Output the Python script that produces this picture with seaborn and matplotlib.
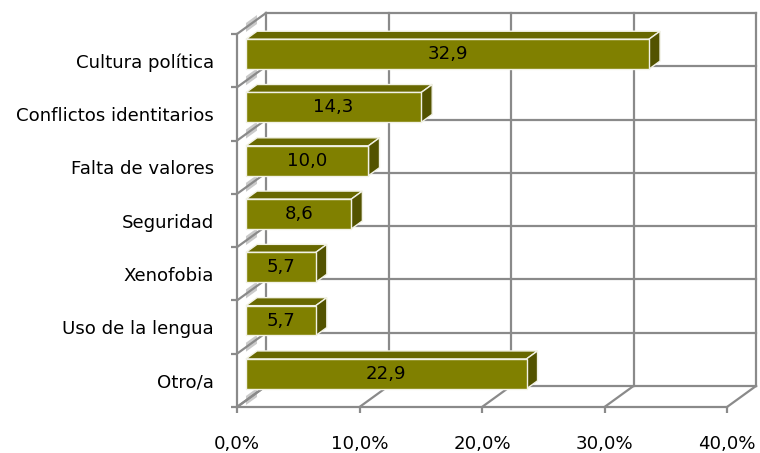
import matplotlib
matplotlib.use("Agg")
import matplotlib.pyplot as plt
import seaborn as sns
import pandas as pd
from matplotlib.patches import Polygon
from matplotlib.ticker import FixedLocator, FixedFormatter

categories = ["Cultura política", "Conflictos identitarios", "Falta de valores",
              "Seguridad", "Xenofobia", "Uso de la lengua", "Otro/a"]
values = [32.9, 14.3, 10.0, 8.6, 5.7, 5.7, 22.9]
value_labels = ["32,9", "14,3", "10,0", "8,6", "5,7", "5,7", "22,9"]
x_ticks = [0, 10, 20, 30, 40]
x_tick_labels = ["0,0%", "10,0%", "20,0%", "30,0%", "40,0%"]

W, H = 760, 453
sns.set_style("white")
plt.rcParams["font.family"] = ["DejaVu Sans"]

fig = plt.figure(figsize=(W / 100, H / 100), dpi=100)
L, R, T, B = 237, 727, 34, 407
ax = fig.add_axes([L / W, (H - B) / H, (R - L) / W, (B - T) / H])

df = pd.DataFrame({"cat": categories, "val": values})
FRONT = "#808000"
TOP = "#686800"
SIDE = "#535300"
EDGE = "#f2f2e6"
GRID = "#8a8a8a"
FS = 13.1

sns.barplot(data=df, x="val", y="cat", orient="h", color=FRONT, width=0.56,
            saturation=1, ax=ax, edgecolor=EDGE, linewidth=1.0, zorder=5)

xmax = 40
n = len(categories)
ax.set_xlim(0, xmax)
ax.set_ylim(n - 0.5, -0.5)

pxx = (R - L) / xmax          # pixels per % unit
pxy = (B - T) / n             # pixels per category
DXp, DYp = 29, 21             # full depth in pixels
DX, DY = DXp / pxx, -DYp / pxy
f0, f1 = 0.31, 0.69

lw = 1.6
kw = dict(color=GRID, lw=lw, clip_on=False, zorder=1, solid_capstyle="projecting")
bounds = [i - 0.5 for i in range(n + 1)]
# back wall
for xv in x_ticks:
    ax.plot([xv + DX, xv + DX], [bounds[0] + DY, bounds[-1] + DY], **kw)
for b in bounds:
    ax.plot([DX, xmax + DX], [b + DY, b + DY], **kw)
# left wall
ax.plot([0, 0], [bounds[0], bounds[-1]], **kw)
for b in bounds:
    ax.plot([0, DX], [b, b + DY], **kw)
    # light shading where the bar depth meets the wall grid line
    hb = 4.5 / pxy
    xa, xb = f0 * DX, f1 * DX
    ya, yb = b + f0 * DY, b + f1 * DY
    ax.add_patch(Polygon([[xa, ya - hb], [xb, yb - hb], [xb, yb + hb], [xa, ya + hb]],
                         closed=True, facecolor="#cacaca", edgecolor="none",
                         zorder=0.8, clip_on=False))
# floor
ax.plot([0, xmax], [bounds[-1], bounds[-1]], **kw)
for xv in x_ticks:
    ax.plot([xv, xv + DX], [bounds[-1], bounds[-1] + DY], **kw)

# 3D bars
ox, oy = f0 * DX, f0 * DY
ddx, ddy = (f1 - f0) * DX, (f1 - f0) * DY
for p, lab in zip(ax.patches, value_labels):
    x0 = p.get_x() + ox
    y0 = p.get_y() + oy
    w = p.get_width()
    h = p.get_height()
    p.set_x(x0)
    p.set_y(y0)
    x1 = x0 + w
    ytop, ybot = y0, y0 + h
    top = Polygon([[x0, ytop], [x0 + ddx, ytop + ddy], [x1 + ddx, ytop + ddy], [x1, ytop]],
                  closed=True, facecolor=TOP, edgecolor=EDGE, lw=1.0, zorder=4, clip_on=False)
    side = Polygon([[x1, ytop], [x1 + ddx, ytop + ddy], [x1 + ddx, ybot + ddy], [x1, ybot]],
                   closed=True, facecolor=SIDE, edgecolor=EDGE, lw=1.0, zorder=4, clip_on=False)
    ax.add_patch(top)
    ax.add_patch(side)
    p.set_clip_on(False)
    ax.text(x0 + w / 2, y0 + h / 2, lab, ha="center", va="center",
            fontsize=FS, color="black", zorder=6)

for s in ax.spines.values():
    s.set_visible(False)

ax.set_xlabel("")
ax.set_ylabel("")
ax.xaxis.set_major_locator(FixedLocator(x_ticks))
ax.xaxis.set_major_formatter(FixedFormatter(x_tick_labels))
ax.tick_params(axis="x", length=4.3, width=lw, color=GRID, pad=16, labelsize=FS,
               labelcolor="black", direction="out", bottom=True)
ax.yaxis.set_major_locator(FixedLocator(list(range(n))))
ax.yaxis.set_major_formatter(FixedFormatter(categories))
ax.yaxis.set_minor_locator(FixedLocator(bounds))
ax.tick_params(axis="y", which="major", length=0, pad=16.5, labelsize=FS,
               labelcolor="black", left=True)
ax.tick_params(axis="y", which="minor", length=4.3, width=lw, color=GRID, direction="out", left=True)
ax.grid(False)
ax.set_facecolor("none")

fig.savefig("out.png", dpi=100)
